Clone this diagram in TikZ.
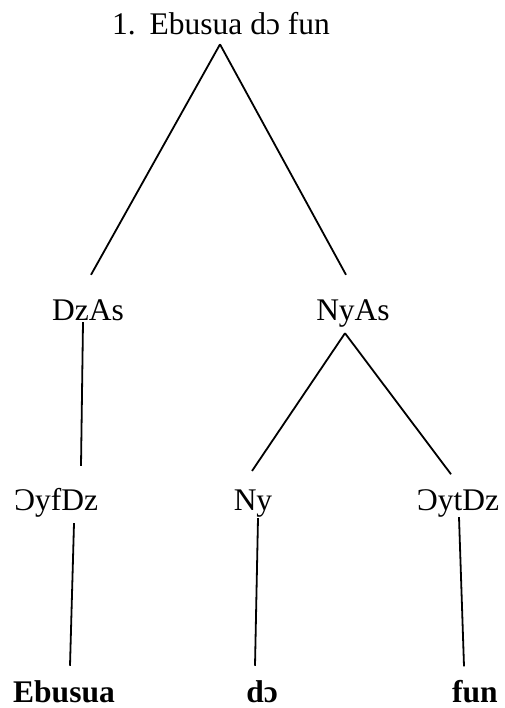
\documentclass[tikz,border=0pt]{standalone}
\usepackage{fontspec}
\setmainfont{Liberation Serif}
\usetikzlibrary{arrows}

\begin{document}
\begin{tikzpicture}[x=1pt,y=-1pt,thick,
        word node/.style={inner sep=0pt,anchor=base,font=\fontsize{31.5}{36}\selectfont},
        leaf node/.style={word node,font=\fontsize{31.5}{36}\selectfont\bfseries}]
        \useasboundingbox (0,0) rectangle (504,708);
        \node[word node] (1) at (221,35) {1.\hspace{14pt}Ebusua dɔ fun};
        \node[word node] (2) at (88,320) {DzAs};
        \node[word node] (3) at (353,320) {NyAs};
        \node[word node] (4) at (56,510) {ƆyfDz};
        \node[word node] (5) at (253,510) {Ny};
        \node[word node] (6) at (458,510) {ƆytDz};
        \node[leaf node] (7) at (64,702) {Ebusua};
        \node[leaf node] (8) at (262,702) {dɔ};
        \node[leaf node] (9) at (475,702) {fun};
        \path[line width=1.8pt]
        ([shift={(-1,8.5)}]1.south) edge ([shift={(3,-24)}]2.north)
        ([shift={(-1,8.5)}]1.south) edge ([shift={(-7,-24)}]3.north)
        ([shift={(-5,1.5)}]2.south) edge ([shift={(25,-21.5)}]4.north)
        ([shift={(-8,6)}]3.south) edge ([shift={(-1,-18)}]5.north)
        ([shift={(-8,6)}]3.south) edge ([shift={(-7,-14.5)}]6.north)
        ([shift={(18,6)}]4.south) edge ([shift={(6,-14)}]7.north)
        ([shift={(5,1)}]5.south) edge ([shift={(-7,-14)}]8.north)
        ([shift={(1,0)}]6.south) edge ([shift={(-11,-13)}]9.north)
        ;
        \end{tikzpicture}
\end{document}
